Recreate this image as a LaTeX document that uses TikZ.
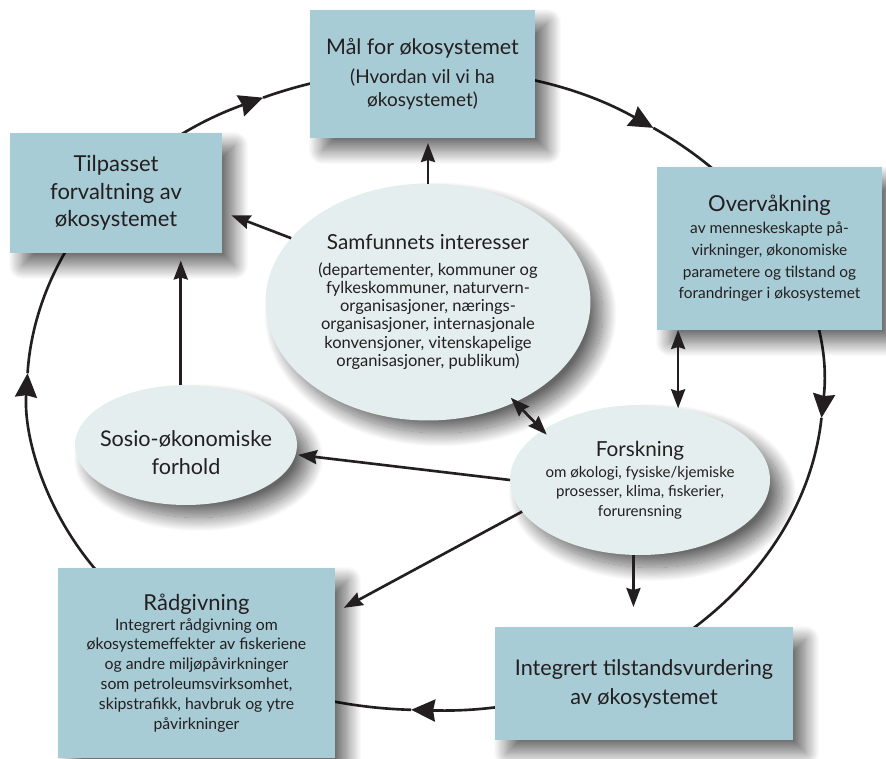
\documentclass[tikz,border=0pt]{standalone}
\usepackage{fontspec}
\setmainfont{Lato}
\usetikzlibrary{arrows.meta}
\usetikzlibrary{shapes.geometric}
\usetikzlibrary{shadows.blur}
\definecolor{boxblue}{HTML}{A8CCD5}
\definecolor{ovalfill}{HTML}{E4EEEE}
\definecolor{ink}{HTML}{231F20}
\tikzset{
  arr/.tip= {Stealth[inset=0.4mm, length=3.8mm, width=2.8mm]},
  bigarr/.tip= {Stealth[inset=0.4mm, length=4.8mm, width=4.4mm]},
  shade/.style= {blur shadow={shadow xshift=2.5mm, shadow yshift=-2.5mm,
      shadow blur radius=2.8mm, shadow blur steps=30, shadow opacity=60}},
  box/.style= {fill=boxblue, text=ink, align=center, inner sep=0, outer sep=0, shade},
  oval/.style= {ellipse, fill=ovalfill, inner sep=0, outer sep=0, shade},
  inside/.style= {text=ink, align=center},
  link/.style= {draw=ink, line width=1.5pt, -arr},
  dlink/.style= {draw=ink, line width=1.5pt, arr-arr},
  cyc/.style= {draw=ink, line width=1.5pt, -bigarr},
}
\newcommand{\hd}{\fontsize{12.5}{16}\selectfont}

\begin{document}
\begin{tikzpicture}[x=0.02cm, y=-0.02cm]
  \useasboundingbox (0,0) rectangle (886,758);

  % the cycle
  \draw[cyc] (425,390) ++(-177:398 and 320) arc[start angle=-177, end angle=-114, x radius=398, y radius=320];
  \draw[cyc] (425,390) ++(-114:398 and 320) arc[start angle=-114, end angle=-55, x radius=398, y radius=320];
  \draw[cyc] (425,390) ++(-55:398 and 320) arc[start angle=-55, end angle=5, x radius=398, y radius=320];
  \draw[cyc] (425,390) ++(5:398 and 320) arc[start angle=5, end angle=92, x radius=398, y radius=320];
  \draw[cyc] (425,390) ++(92:398 and 320) arc[start angle=92, end angle=183, x radius=398, y radius=320];

  \node [box, minimum width=4.5cm, minimum height=2.56cm, font=\fontsize{10.8}{13.5}\selectfont] (mal) at (422.5,74)
    {{\fontsize{12.2}{15}\selectfont Mål for økosystemet}\\[3pt](Hvordan vil vi ha\\økosystemet)} ;
  \node [box, minimum width=4.24cm, minimum height=2.4cm, font=\fontsize{12.5}{15.6}\selectfont] (tilp) at (116,193)
    {Tilpasset\\forvaltning av\\økosystemet} ;
  \node [box, minimum width=4.5cm, minimum height=3.26cm, font=\fontsize{8.8}{12.4}\selectfont] (overv) at (769.5,248.5)
    {{\hd Overvåkning}\\av menneskeskapte på-\\virkninger, økonomiske\\parametere og tilstand og\\forandringer i økosystemet} ;
  \node [box, minimum width=5.54cm, minimum height=3.8cm, font=\fontsize{9}{11.3}\selectfont] (rad) at (196.5,663)
    {{\hd Rådgivning}\\Integrert rådgivning om\\økosystemeffekter av fiskeriene\\og andre miljøpåvirkninger\\som petroleumsvirksomhet,\\skipstrafikk, havbruk og ytre\\påvirkninger} ;
  \node [box, minimum width=5.96cm, minimum height=2.26cm, font=\fontsize{12.3}{16.5}\selectfont] (integ) at (644,683.5)
    {Integrert tilstandsvurdering\\av økosystemet} ;

  \node [oval, minimum width=6.5cm, minimum height=4.74cm,
    label={[inside, font=\fontsize{9.4}{10.4}\selectfont]center:{{\fontsize{11.8}{14}\selectfont Samfunnets interesser}\\[4pt](departementer, kommuner og\\fylkeskommuner, naturvern-\\organisasjoner, nærings-\\organisasjoner, internasjonale\\konvensjoner, vitenskapelige\\organisasjoner, publikum)}}] (samf) at (428,302) {} ;
  \node [oval, minimum width=4.44cm, minimum height=2.4cm,
    label={[inside, font=\fontsize{12.3}{16}\selectfont, yshift=-0.15cm]center:{Sosio-økonomiske\\forhold}}] (sosio) at (186,445) {} ;
  \node [oval, minimum width=5.2cm, minimum height=3cm,
    label={[inside, font=\fontsize{8.6}{11}\selectfont]center:{{\fontsize{11.8}{14}\selectfont Forskning}\\[1pt]om økologi, fysiske/kjemiske\\prosesser, klima, fiskerier,\\forurensning}}] (forsk) at (640,480) {} ;

  \draw[link, shorten >=1mm] (samf.north) -- (samf.north |- mal.south) ;
  \draw[link, shorten >=2mm] (samf.155) -- (tilp.-10) ;
  \draw[link, shorten >=1.5mm] (sosio.95) -- (sosio.95 |- tilp.south) ;
  \draw[dlink] (forsk.62) -- (forsk.62 |- overv.south) ;
  \draw[dlink, shorten <=-1.2mm, shorten >=-1.2mm] (samf.-49) -- (forsk.153) ;
  \draw[link, shorten >=0.5mm] (forsk.west) -- (sosio.-5) ;
  \draw[link, shorten >=2mm] (forsk.195) -- (rad.20) ;
  \draw[link, shorten >=4mm] (forsk.265) -- (forsk.265 |- integ.north) ;
\end{tikzpicture}
\end{document}
